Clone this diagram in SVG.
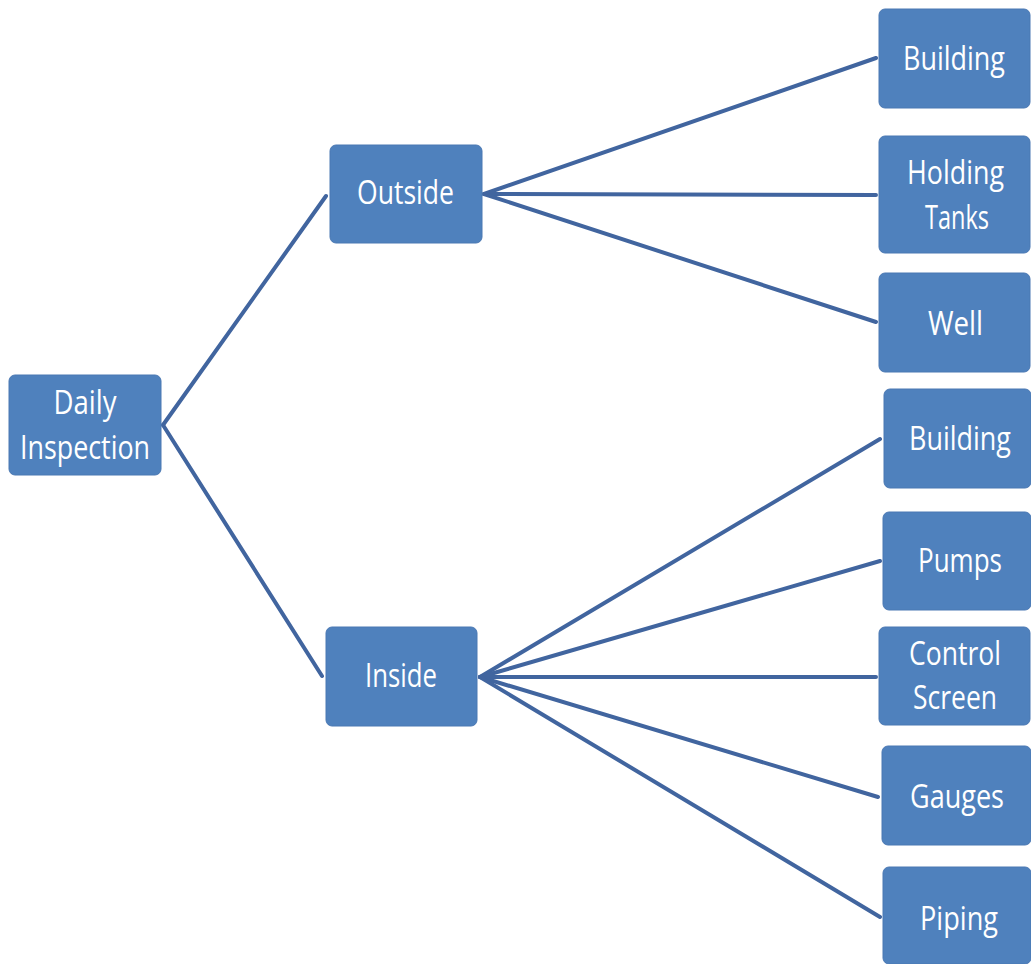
<svg xmlns="http://www.w3.org/2000/svg" width="1031" height="964" viewBox="0 0 1031 964">
<style>
.box{fill:#4F81BD;stroke:#4a78b3;stroke-width:1}
.lbl{font-family:"Open Sans","Liberation Sans",sans-serif;font-size:32px;fill:#ffffff;text-anchor:middle}
.con{stroke:#41659f;stroke-width:4;fill:none;stroke-linecap:round}
</style>
<rect width="1031" height="964" fill="#ffffff"/>
<g id="connectors">
<line class="con" x1="163" y1="425" x2="326" y2="196"/>
<line class="con" x1="163" y1="425" x2="322" y2="676"/>
<line class="con" x1="484" y1="194" x2="876" y2="58"/>
<line class="con" x1="484" y1="194" x2="876" y2="195"/>
<line class="con" x1="484" y1="194" x2="876" y2="322"/>
<line class="con" x1="480" y1="677" x2="880" y2="439"/>
<line class="con" x1="480" y1="677" x2="880" y2="561"/>
<line class="con" x1="480" y1="677" x2="876" y2="677"/>
<line class="con" x1="480" y1="677" x2="878" y2="797"/>
<line class="con" x1="480" y1="677" x2="880" y2="917"/>
</g>
<g id="daily">
<rect class="box" x="9" y="375" width="152" height="100" rx="6"/>
<text class="lbl" x="85" y="414" textLength="63" lengthAdjust="spacingAndGlyphs">Daily</text>
<text class="lbl" x="85" y="459" textLength="130" lengthAdjust="spacingAndGlyphs">Inspection</text>
</g>
<g id="outside">
<rect class="box" x="330" y="145" width="152" height="98" rx="6"/>
<text class="lbl" x="405.5" y="204" textLength="97" lengthAdjust="spacingAndGlyphs">Outside</text>
</g>
<g id="inside">
<rect class="box" x="326" y="627" width="151" height="99" rx="6"/>
<text class="lbl" x="401" y="687" textLength="72" lengthAdjust="spacingAndGlyphs">Inside</text>
</g>
<g id="out-building">
<rect class="box" x="879" y="9" width="151" height="99" rx="6"/>
<text class="lbl" x="954" y="70" textLength="102" lengthAdjust="spacingAndGlyphs">Building</text>
</g>
<g id="holding-tanks">
<rect class="box" x="879" y="136" width="151" height="117" rx="6"/>
<text class="lbl" x="955.5" y="184" textLength="97" lengthAdjust="spacingAndGlyphs">Holding</text>
<text class="lbl" x="957" y="229" textLength="64" lengthAdjust="spacingAndGlyphs">Tanks</text>
</g>
<g id="well">
<rect class="box" x="879" y="273" width="151" height="99" rx="6"/>
<text class="lbl" x="955.5" y="335" textLength="55" lengthAdjust="spacingAndGlyphs">Well</text>
</g>
<g id="in-building">
<rect class="box" x="884" y="389" width="147" height="99" rx="6"/>
<text class="lbl" x="960" y="450" textLength="102" lengthAdjust="spacingAndGlyphs">Building</text>
</g>
<g id="pumps">
<rect class="box" x="883" y="512" width="148" height="98" rx="6"/>
<text class="lbl" x="960" y="572" textLength="84" lengthAdjust="spacingAndGlyphs">Pumps</text>
</g>
<g id="control-screen">
<rect class="box" x="879" y="627" width="151" height="98" rx="6"/>
<text class="lbl" x="955" y="665" textLength="92" lengthAdjust="spacingAndGlyphs">Control</text>
<text class="lbl" x="955" y="709" textLength="84" lengthAdjust="spacingAndGlyphs">Screen</text>
</g>
<g id="gauges">
<rect class="box" x="882" y="746" width="149" height="99" rx="6"/>
<text class="lbl" x="957" y="808" textLength="94" lengthAdjust="spacingAndGlyphs">Gauges</text>
</g>
<g id="piping">
<rect class="box" x="883" y="867" width="148" height="97" rx="6"/>
<text class="lbl" x="959" y="930" textLength="78" lengthAdjust="spacingAndGlyphs">Piping</text>
</g>
</svg>
